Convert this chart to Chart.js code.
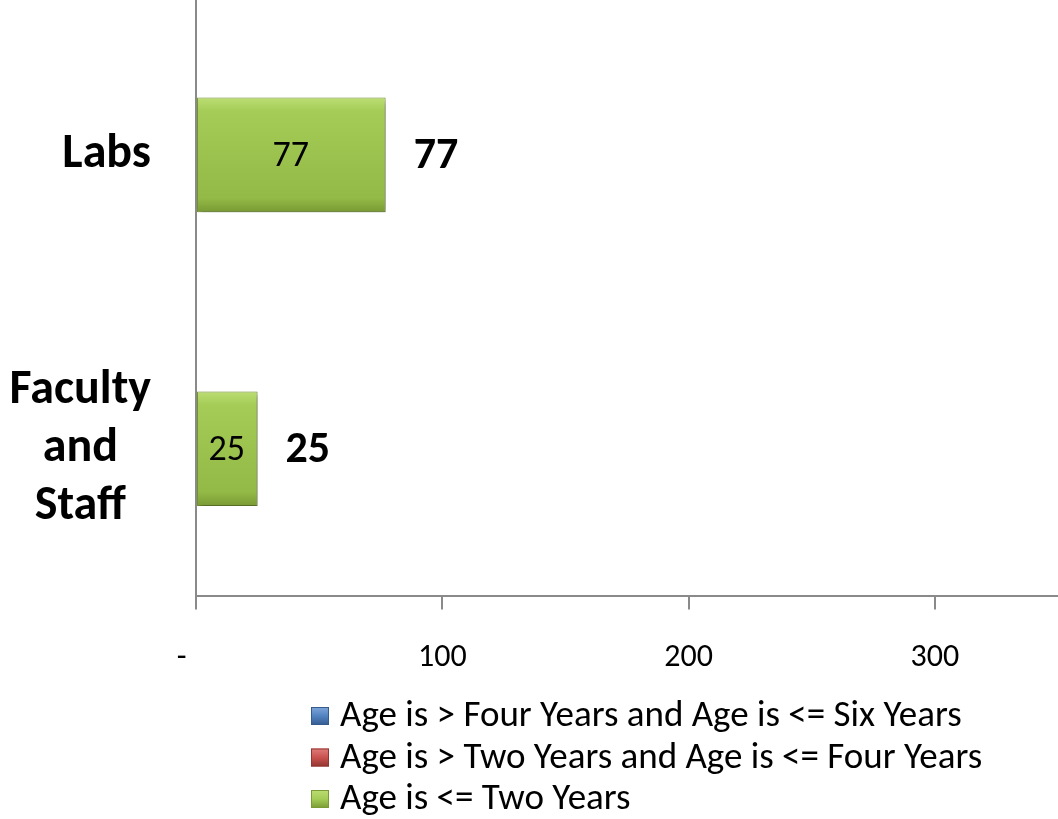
<!DOCTYPE html>
<html>
<head>
<meta charset="utf-8">
<script src="https://cdn.jsdelivr.net/npm/chart.js@4.4.0/dist/chart.umd.min.js"></script>
<style>
html, body { margin: 0; padding: 0; background: #fff; }
#wrap { width: 1058px; height: 819px; position: relative; }
</style>
</head>
<body>
<div id="wrap"><canvas id="chart"></canvas></div>
<script>
// ---- data ----
const categories = [["Labs"], ["Faculty", "and", "Staff"]];
const seriesNames = [
    "Age is <= Two Years",
    "Age is > Two Years and Age is <= Four Years",
    "Age is > Four Years and Age is <= Six Years"
];
const upToTwo = [77, 25];
const twoToFour = [0, 0];
const fourToSix = [0, 0];
const xTicks = [0, 100, 200, 300];

const FONT = "Carlito, Lato, 'Open Sans', sans-serif";
const BAR_FRACTION = 0.65 * 0.6;

const palette = [
    ["#bcdd74", "#a4cc56", "#93b946", "#799a34"],
    ["#e07c79", "#c9524f", "#b8433f", "#923431"],
    ["#7fa6d8", "#5283c2", "#4673b0", "#355a8e"]
];

function barGradient(ctx, colors) {
    const chart = ctx.chart;
    const y = chart.scales.y;
    if (!chart.chartArea || !y) return colors[1];
    const yc = y.getPixelForValue(ctx.dataIndex);
    const half = (y.height / categories.length) * BAR_FRACTION / 2;
    const g = chart.ctx.createLinearGradient(0, yc - half, 0, yc + half);
    g.addColorStop(0, colors[0]);
    g.addColorStop(0.12, colors[1]);
    g.addColorStop(0.88, colors[2]);
    g.addColorStop(1, colors[3]);
    return g;
}

function makeSet(label, values, colors) {
    return {
        label: label,
        data: values,
        backgroundColor: ctx => barGradient(ctx, colors),
        borderColor: colors[3],
        borderWidth: ctx => (ctx.raw ? 1 : 0),
        borderSkipped: false,
        legendColors: colors
    };
}

// ---- plugins ----
const shadowPlugin = {
    id: "shadow",
    beforeDatasetsDraw(chart) {
        const c = chart.ctx;
        c.save();
        c.shadowColor = "rgba(0,0,0,0.35)";
        c.shadowBlur = 5;
        c.shadowOffsetX = 2;
        c.shadowOffsetY = 3;
    },
    afterDatasetsDraw(chart) {
        chart.ctx.restore();
    }
};

const labelPlugin = {
    id: "labels",
    afterDraw(chart) {
        const c = chart.ctx;
        const x = chart.scales.x;
        const y = chart.scales.y;
        const area = chart.chartArea;
        c.save();

        // value axis line runs up to the top edge
        c.strokeStyle = "#8a8a8a";
        c.lineWidth = 2;
        c.beginPath();
        c.moveTo(area.left, 0);
        c.lineTo(area.left, area.top);
        c.stroke();

        c.fillStyle = "#000";
        c.textBaseline = "middle";

        // value labels inside bars
        c.font = "36px " + FONT;
        c.textAlign = "center";
        chart.data.datasets.forEach((ds, di) => {
            const meta = chart.getDatasetMeta(di);
            meta.data.forEach((bar, i) => {
                const v = ds.data[i];
                if (!v) return;
                const left = x.getPixelForValue(0);
                c.fillText(String(v), (left + bar.x) / 2, bar.y + 2);
            });
        });

        // totals beyond bar ends
        c.font = "bold 44px " + FONT;
        c.textAlign = "left";
        categories.forEach((cat, i) => {
            const total = upToTwo[i] + twoToFour[i] + fourToSix[i];
            c.fillText(String(total), x.getPixelForValue(total) + 28, y.getPixelForValue(i) + 2);
        });

        // category labels (block right aligned, each line centred)
        c.font = "bold 48px " + FONT;
        c.textAlign = "center";
        const right = area.left - 45;
        const lineH = 58;
        categories.forEach((lines, i) => {
            const w = Math.max(...lines.map(s => c.measureText(s).width));
            const cx = right - w / 2;
            const yc = y.getPixelForValue(i);
            lines.forEach((s, k) => {
                c.fillText(s, cx, yc + (k - (lines.length - 1) / 2) * lineH);
            });
        });

        // legend, reversed order, stacked rows
        c.font = "37px " + FONT;
        c.textAlign = "left";
        const sets = chart.data.datasets.slice().reverse();
        sets.forEach((ds, k) => {
            const ty = 716 + k * 41.5;
            const col = ds.legendColors;
            const g = c.createLinearGradient(0, ty - 9, 0, ty + 9);
            g.addColorStop(0, col[0]);
            g.addColorStop(0.5, col[1]);
            g.addColorStop(1, col[3]);
            c.fillStyle = g;
            c.fillRect(311, ty - 9, 18, 18);
            c.strokeStyle = col[3];
            c.lineWidth = 1;
            c.strokeRect(311.5, ty - 8.5, 17, 17);
            c.fillStyle = "#000";
            c.fillText(ds.label, 340, ty + 1);
        });
        c.restore();
    }
};

// ---- chart ----
new Chart(document.getElementById("chart"), {
    type: "bar",
    data: {
        labels: categories,
        datasets: [
            makeSet(seriesNames[0], upToTwo, palette[0]),
            makeSet(seriesNames[1], twoToFour, palette[1]),
            makeSet(seriesNames[2], fourToSix, palette[2])
        ]
    },
    options: {
        indexAxis: "y",
        responsive: true,
        maintainAspectRatio: false,
        animation: false,
        barPercentage: 0.65,
        categoryPercentage: 0.6,
        layout: { padding: { top: 8, right: 0, bottom: 113, left: 0 } },
        plugins: {
            legend: { display: false },
            tooltip: { enabled: false }
        },
        scales: {
            x: {
                stacked: true,
                min: 0,
                max: 350,
                afterBuildTicks(scale) {
                    scale.ticks = xTicks.map(v => ({ value: v }));
                },
                border: { display: true, color: "#8a8a8a", width: 2 },
                grid: {
                    display: true,
                    drawOnChartArea: false,
                    drawTicks: true,
                    tickLength: 14,
                    color: "#8a8a8a",
                    lineWidth: 2
                },
                ticks: {
                    color: "#000",
                    padding: 29,
                    font: { family: FONT, size: 32 },
                    callback: v => (v === 0 ? "-    " : String(v))
                }
            },
            y: {
                stacked: true,
                afterFit(scale) { scale.width = 196; },
                border: { display: true, color: "#8a8a8a", width: 2 },
                grid: { display: false },
                ticks: { display: false }
            }
        }
    },
    plugins: [shadowPlugin, labelPlugin]
});
</script>
</body>
</html>
